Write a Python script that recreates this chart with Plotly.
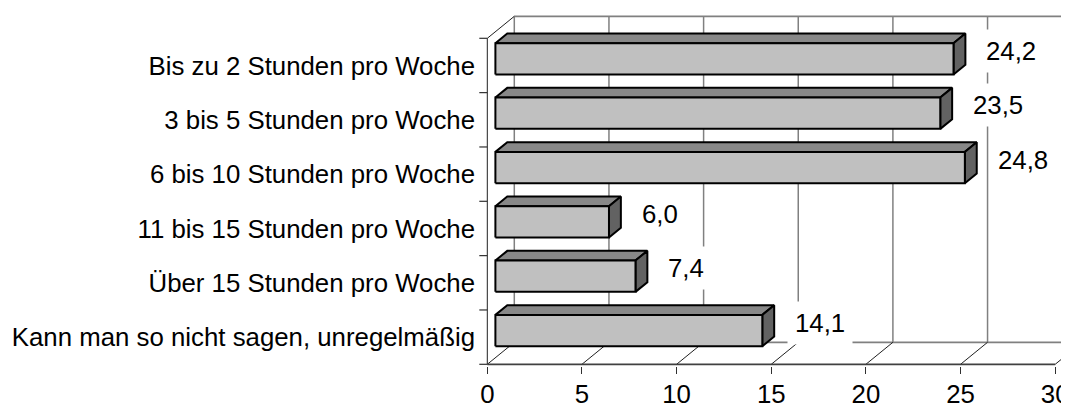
import plotly.graph_objects as go

# ---------------- data ----------------
categories = [
    "Bis zu 2 Stunden pro Woche",
    "3 bis 5 Stunden pro Woche",
    "6 bis 10 Stunden pro Woche",
    "11 bis 15 Stunden pro Woche",
    "Über 15 Stunden pro Woche",
    "Kann man so nicht sagen, unregelmäßig",
]
values = [24.2, 23.5, 24.8, 6.0, 7.4, 14.1]
value_labels = ["24,2", "23,5", "24,8", "6,0", "7,4", "14,1"]
x_ticks = [0, 5, 10, 15, 20, 25, 30]

# ---------------- layout geometry (pixels, page coordinates) ----------------
OFF = 8                                     # page body margin offset
W, H = 1069, 404                            # figure size (paper may run past viewport)
PL, PR, PT, PB = 476, 1077, 8, 366          # plot area edges (page px)
X0_PX, PX_PER_UNIT = 487.3, 18.93           # front x=0 position, px per value unit
Y_FRONT_BOT, Y_FRONT_TOP = 364.3, 38.3      # front plane category span
N = len(categories)
PX_PER_CAT = (Y_FRONT_BOT - Y_FRONT_TOP) / N
DEPTH_DX_PX, DEPTH_DY_PX = 27.0, 22.0       # 3-D depth offset

XMAX = x_ticks[-1]
DX = DEPTH_DX_PX / PX_PER_UNIT
DY = DEPTH_DY_PX / PX_PER_CAT
F0, F1 = 0.30, 0.74          # bar depth range (fraction of depth)
BAR_H = 0.576                # bar thickness in category units

def yv(px):
    return -0.5 + (Y_FRONT_BOT - px) / PX_PER_CAT

x_range = [(PL - X0_PX) / PX_PER_UNIT, (PR - X0_PX) / PX_PER_UNIT]
y_range = [yv(PB), yv(PT)]

pos = list(range(N - 1, -1, -1))   # first category on top
LO, HI = -0.5, N - 0.5

fig = go.Figure()

def segs(pairs, color, width):
    xs, ys = [], []
    for (x1, y1), (x2, y2) in pairs:
        xs += [x1, x2, None]
        ys += [y1, y2, None]
    fig.add_trace(go.Scatter(x=xs, y=ys, mode="lines",
                             line=dict(color=color, width=width),
                             hoverinfo="skip", showlegend=False))

# back wall gridlines
segs([((k + DX, LO + DY), (k + DX, HI + DY)) for k in x_ticks], "#808080", 1.5)
# back wall top and floor lines
segs([((DX, HI + DY), (XMAX + DX, HI + DY)),
      ((DX, LO + DY), (XMAX + DX, LO + DY))], "#808080", 1.8)
# floor diagonals
segs([((k, LO), (k + DX, LO + DY)) for k in x_ticks], "#202020", 1)
# left wall edges
segs([((0, LO), (0, HI)),
      ((0, HI), (DX, HI + DY))], "#202020", 1)
# left category boundary ticks
tick_len = 8 / PX_PER_UNIT
segs([((-tick_len, LO + i), (0, LO + i)) for i in range(N + 1)], "#303030", 1.2)
# front axis line
segs([((0, LO), (XMAX, LO))], "#404040", 1.8)

# ---------------- 3-D bars ----------------
def poly_trace(polys, fill):
    xs, ys = [], []
    for pts in polys:
        for (x, y) in pts + [pts[0]]:
            xs.append(x)
            ys.append(y)
        xs.append(None)
        ys.append(None)
    fig.add_trace(go.Scatter(x=xs, y=ys, mode="lines", fill="toself",
                             fillcolor=fill, line=dict(color="black", width=2),
                             hoverinfo="skip", showlegend=False))

front, top, side = [], [], []
for p, v in zip(pos, values):
    x0f, x1f = F0 * DX, v + F0 * DX
    x0b, x1b = F1 * DX, v + F1 * DX
    yb_f, yt_f = p + F0 * DY - BAR_H / 2, p + F0 * DY + BAR_H / 2
    yb_b, yt_b = p + F1 * DY - BAR_H / 2, p + F1 * DY + BAR_H / 2
    front.append([(x0f, yb_f), (x1f, yb_f), (x1f, yt_f), (x0f, yt_f)])
    top.append([(x0f, yt_f), (x1f, yt_f), (x1b, yt_b), (x0b, yt_b)])
    side.append([(x1f, yb_f), (x1f, yt_f), (x1b, yt_b), (x1b, yb_b)])

poly_trace(top, "#888888")
poly_trace(side, "#626262")
poly_trace(front, "#C0C0C0")

FONT = "Liberation Sans, Arial, sans-serif"
FS = 25.8

for p, v, lab in zip(pos, values, value_labels):
    fig.add_annotation(x=v + F1 * DX, y=p + (F0 + F1) / 2 * DY,
                       text=lab, showarrow=False, xanchor="left", yanchor="middle",
                       xshift=13, yshift=3, bgcolor="white", borderpad=7,
                       font=dict(family=FONT, size=FS, color="black"))

fig.update_layout(
    width=W, height=H,
    margin=dict(l=PL - OFF, r=W - (PR - OFF), t=PT - OFF, b=H - (PB - OFF),
                autoexpand=False),
    plot_bgcolor="white", paper_bgcolor="white",
    font=dict(family=FONT, size=FS, color="black"),
    xaxis=dict(range=x_range, tickvals=x_ticks, ticktext=[str(t) for t in x_ticks],
               ticks="outside", ticklen=7, tickwidth=1.2, tickcolor="#303030",
               ticklabelstandoff=-2,
               showgrid=False, zeroline=False, showline=False, fixedrange=True),
    yaxis=dict(range=y_range, tickvals=pos, ticktext=categories, ticks="",
               ticklabelstandoff=0, showgrid=False, zeroline=False, showline=False,
               fixedrange=True),
)

fig.write_html("out.html")
